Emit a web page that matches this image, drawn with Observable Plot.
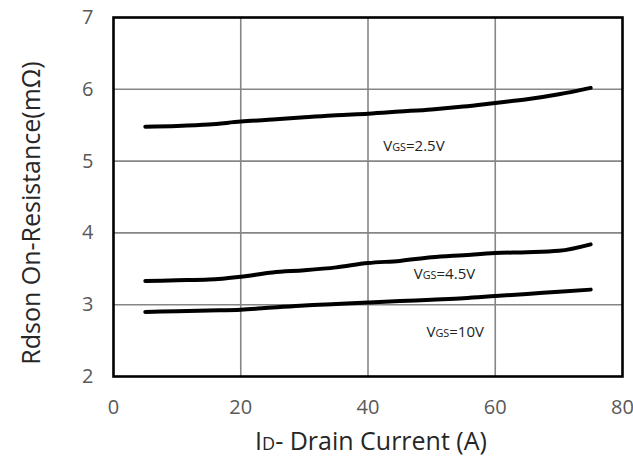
<!DOCTYPE html>
<html>
<head>
<meta charset="utf-8">
<script src="https://cdn.jsdelivr.net/npm/d3@7"></script>
<script src="https://cdn.jsdelivr.net/npm/@observablehq/plot@0.6"></script>
<style>
  html, body { margin: 0; padding: 0; background: #fff; }
  #chart svg { display: block; font-family: "Open Sans", sans-serif; }
</style>
</head>
<body>
<div id="chart"></div>
<script>
// Drain current (A)
const current = [5, 10, 15, 20, 25, 30, 35, 40, 45, 50, 55, 60, 65, 70, 75];
// Rdson (mΩ) per gate voltage
const rdsVgs25 = [5.48, 5.49, 5.51, 5.55, 5.58, 5.61, 5.64, 5.66, 5.69, 5.72, 5.76, 5.81, 5.86, 5.93, 6.02];
const rdsVgs45 = [3.33, 3.34, 3.35, 3.39, 3.45, 3.48, 3.52, 3.58, 3.61, 3.66, 3.69, 3.72, 3.73, 3.75, 3.84];
const rdsVgs10 = [2.90, 2.91, 2.92, 2.93, 2.96, 2.99, 3.01, 3.03, 3.05, 3.07, 3.09, 3.12, 3.15, 3.18, 3.21];
const seriesNames = ["VGS=2.5V", "VGS=4.5V", "VGS=10V"];
// annotation anchors (data coordinates)
const labelX = [42.4, 47.2, 49.2];
const labelY = [5.21, 3.43, 2.62];
const xTicks = [0, 20, 40, 60, 80];
const yTicks = [2, 3, 4, 5, 6, 7];
const xTitle = "ID- Drain Current (A)";
const yTitle = "Rdson On-Resistance(mΩ)";

const seriesValues = [rdsVgs25, rdsVgs45, rdsVgs10];
const rows = seriesNames.flatMap((s, i) => current.map((c, j) => ({series: s, id: c, rds: seriesValues[i][j]})));
const labels = seriesNames.map((s, i) => ({text: s, x: labelX[i], y: labelY[i]}));

const plot = Plot.plot({
  width: 633,
  height: 464,
  marginLeft: 113,
  marginRight: 11,
  marginTop: 17,
  marginBottom: 88,
  style: {fontFamily: "'Open Sans', sans-serif", background: "#fff"},
  x: {domain: [0, 80]},
  y: {domain: [2, 7]},
  marks: [
    Plot.gridX([20, 40, 60], {stroke: "#868686", strokeOpacity: 1, strokeWidth: 1.6}),
    Plot.gridY([3, 4, 5, 6], {stroke: "#868686", strokeOpacity: 1, strokeWidth: 1.6}),
    Plot.line(rows, {x: "id", y: "rds", z: "series", stroke: "#000", strokeWidth: 4, curve: "monotone-x"}),
    Plot.frame({stroke: "#000", strokeWidth: 2.6}),
    Plot.axisX(xTicks, {tickSize: 0, tickPadding: 23, fontSize: 20, fill: "#595959", label: null, tickFormat: (d) => String(d)}),
    Plot.axisY(yTicks, {tickSize: 0, tickPadding: 20, fontSize: 20, fill: "#595959", label: null, tickFormat: (d) => String(d)}),
    Plot.text(labels, {x: "x", y: "y", text: "text", textAnchor: "start", fontSize: 15, fill: "#222", className: "vlabel"}),
    Plot.text([xTitle], {frameAnchor: "bottom", textAnchor: "middle", lineAnchor: "middle", dx: 3, dy: 65, fontSize: 25, fill: "#262626", className: "xtitle"}),
    Plot.text([yTitle], {frameAnchor: "left", textAnchor: "middle", lineAnchor: "middle", dx: -82, dy: 16, rotate: -90, fontSize: 25, fill: "#262626", className: "ytitle"})
  ]
});

// render subscripts (V_GS, I_D) as smaller tspans
d3.select(plot).selectAll("text").each(function () {
  const t = this.textContent;
  const m = /^(V)(GS)(.*)$/.exec(t) || /^(I)(D)(-.*)$/.exec(t);
  if (!m) return;
  const sel = d3.select(this);
  sel.text(null);
  sel.append("tspan").text(m[1]);
  sel.append("tspan").attr("font-size", "0.72em").text(m[2]);
  sel.append("tspan").text(m[3]);
});

document.getElementById("chart").appendChild(plot);
</script>
</body>
</html>
